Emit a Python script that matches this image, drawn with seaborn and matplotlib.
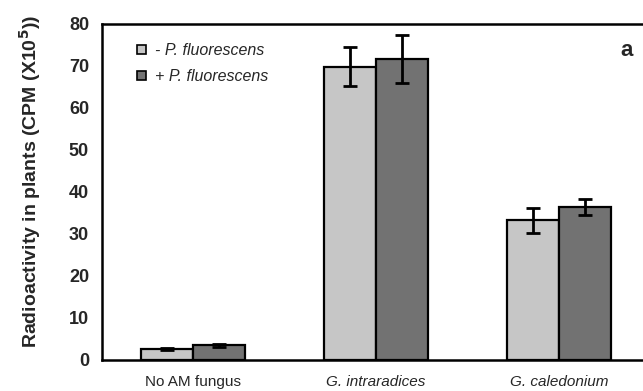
import matplotlib
matplotlib.use("Agg")
import matplotlib.pyplot as plt
import pandas as pd
import seaborn as sns

# values
groups = ["No AM fungus", "G. intraradices", "G. caledonium"]
treatments = ["- P. fluorescens", "+ P. fluorescens"]
minus_pf = [2.6, 69.8, 33.2]
plus_pf = [3.5, 71.6, 36.3]
minus_err = [0.2, 4.6, 2.9]
plus_err = [0.3, 5.7, 1.9]

colors = ["#c6c6c6", "#727272"]

df = pd.DataFrame({
    "group": groups * 2,
    "treatment": [treatments[0]] * 3 + [treatments[1]] * 3,
    "cpm": minus_pf + plus_pf,
    "err": minus_err + plus_err,
})

sns.set_theme(style="white")
plt.rcParams["font.family"] = ["Liberation Sans", "DejaVu Sans"]

fig = plt.figure(figsize=(6.43, 3.91), dpi=100)
ax = fig.add_axes([0.159, 0.0793, 0.841, 0.86])

sns.barplot(data=df, x="group", y="cpm", hue="treatment", order=groups,
            hue_order=treatments, palette=colors, width=0.57, gap=0,
            edgecolor="black", linewidth=1.6, errorbar=None, ax=ax)

# error bars on top of each bar
for p, (_, row) in zip(ax.patches, df.iterrows()):
    x = p.get_x() + p.get_width() / 2
    ax.errorbar(x, row["cpm"], yerr=row["err"], fmt="none", ecolor="black",
                elinewidth=2, capsize=4.7, capthick=2, zorder=5)

ax.set_xlim(-0.496, 2.46)
ax.set_ylim(0, 80)
ax.set_yticks(range(0, 81, 10))
ax.tick_params(axis="y", which="major", direction="inout", length=7,
               width=0.8, color="#888888", labelsize=13, pad=6)
for t in ax.get_yticklabels():
    t.set_fontweight("bold")
ax.tick_params(axis="x", length=0, labelsize=11, pad=11)
for t, lab in zip(ax.get_xticklabels(), groups):
    if lab.startswith("G."):
        t.set_fontstyle("italic")

ax.set_xlabel("")
ax.set_ylabel("Radioactivity in plants (CPM (X10$^\\mathbf{5}$))",
              fontsize=14, fontweight="bold")
ax.yaxis.set_label_coords(-0.11, 0.53)

for side in ["left", "top", "bottom"]:
    ax.spines[side].set_linewidth(1.8)
    ax.spines[side].set_color("black")
ax.spines["right"].set_visible(False)

leg = ax.legend(loc="upper left", bbox_to_anchor=(0.038, 0.985), frameon=False,
                handlelength=0.55, handleheight=0.55, handletextpad=0.55,
                labelspacing=0.7, fontsize=11.5)
for t in leg.get_texts():
    t.set_fontstyle("italic")
for h in leg.legend_handles:
    h.set_edgecolor("black")
    h.set_linewidth(1.2)

ax.text(0.969, 0.92, "a", transform=ax.transAxes, fontsize=16,
        fontweight="bold", ha="center", va="center")

fig.savefig("out.png", dpi=100)
